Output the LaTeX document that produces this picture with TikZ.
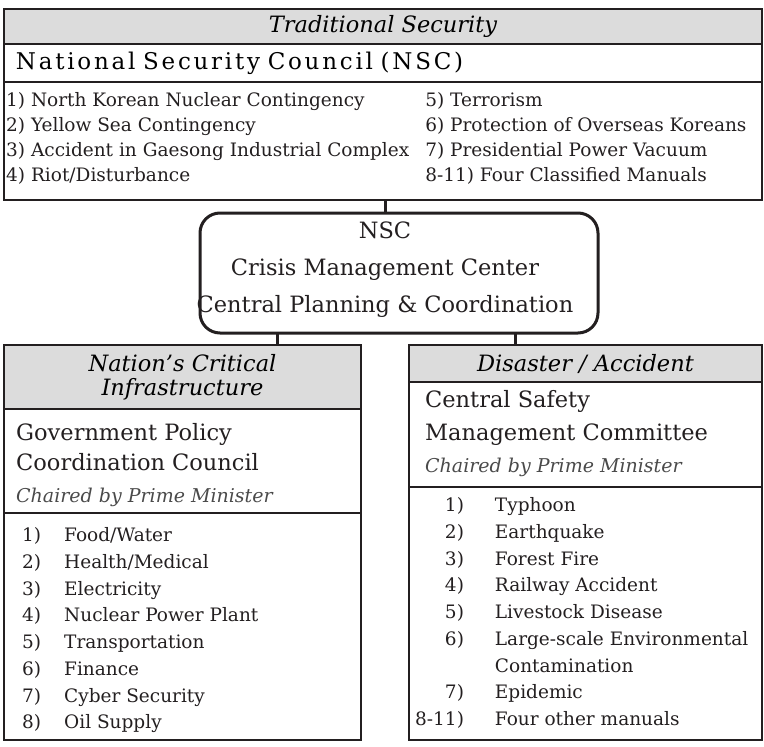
\documentclass[tikz,border=0pt]{standalone}
\usepackage{fontspec}
\setmainfont{DejaVu Serif}
\newfontfamily\trackedfont[LetterSpace=12]{DejaVu Serif}
\usepackage{tikz}
\usetikzlibrary{positioning}
\definecolor{barGray}{HTML}{DCDCDC}
\definecolor{lineDark}{HTML}{231F20}
\definecolor{noteGray}{HTML}{4A4A4A}

\begin{document}
\begin{tikzpicture}[x=1pt,y=-1pt]
\tikzset{HeadBar/.style={
  draw=lineDark,
  fill=barGray,
  line width=2pt,
  rectangle,
  align=center,
  inner sep=0pt,
  outer sep=0pt,
  font=\fontsize{22.5}{24}\selectfont\itshape,
}}
\tikzset{PanelRow/.style={
  draw=lineDark,
  line width=2pt,
  rectangle,
  inner sep=0pt,
  outer sep=0pt,
}}
\tikzset{CenterBox/.style={
  draw=lineDark,
  line width=3pt,
  rounded corners=20pt,
  rectangle,
  outer sep=0pt,
}}
\tikzset{CouncilText/.style={
  anchor=west,
  align=left,
  inner sep=0pt,
  text=lineDark,
}}
\tikzset{ChairText/.style={
  anchor=west,
  inner sep=0pt,
  text=noteGray,
  font=\fontsize{19}{22}\selectfont\itshape,
}}
\tikzset{ListText/.style={
  anchor=north west,
  inner sep=0pt,
  align=left,
  text=lineDark,
  font=\fontsize{18.5}{26.7}\selectfont,
}}
\tikzset{Link/.style={draw=lineDark, line width=3pt}}

\useasboundingbox (0,0) rectangle (764,747);

% traditional security panel
\node[HeadBar, minimum width=758pt, minimum height=35pt, anchor=north west] (tradhead) at (4,9) {Traditional Security};
\node[PanelRow, minimum width=758pt, minimum height=38pt, text width=734pt, align=left,
      font=\fontsize{23}{26}\selectfont, below=0pt of tradhead] (nsc) {\trackedfont National Security Council (NSC)};
\node[PanelRow, minimum width=758pt, minimum height=118pt, below=0pt of nsc] (nsclist) {};
\node[ListText, font=\fontsize{18.5}{25}\selectfont] (nsctopics) at (6,89) {%
  \begin{tabular}{@{}l@{\hspace{16pt}}l@{}}
    1) North Korean Nuclear Contingency & 5) Terrorism\\
    2) Yellow Sea Contingency & 6) Protection of Overseas Koreans\\
    3) Accident in Gaesong Industrial Complex & 7) Presidential Power Vacuum\\
    4) Riot/Disturbance & 8-11) Four Classified Manuals
  \end{tabular}};

% crisis management center
\node[CenterBox, minimum width=398pt, minimum height=120pt] (cmc) at (399,273) {};
\node[align=center, inner sep=0pt, text=lineDark, font=\fontsize{22.5}{37}\selectfont]
  (cmcname) at ([xshift=-14pt,yshift=3pt]cmc.center) {NSC\\Crisis Management Center\\Central Planning \& Coordination};

% critical infrastructure panel
\node[HeadBar, minimum width=357pt, minimum height=64pt, anchor=north west] (infrahead) at (4,345) {Nation's Critical\\Infrastructure};
\node[PanelRow, minimum width=357pt, minimum height=104pt, below=0pt of infrahead] (gpcc) {};
\node[PanelRow, minimum width=357pt, minimum height=227pt, below=0pt of gpcc] (infralist) {};
\node[CouncilText, font=\fontsize{22.5}{30}\selectfont] (gpcctitle) at (16,447) {Government Policy\\Coordination Council};
\node[ChairText] (gpccchair) at (16,497) {Chaired by Prime Minister};
\node[ListText] (infratopics) at (22,523) {%
  \begin{tabular}{@{}r@{\hspace{23pt}}l@{}}
    1) & Food/Water\\
    2) & Health/Medical\\
    3) & Electricity\\
    4) & Nuclear Power Plant\\
    5) & Transportation\\
    6) & Finance\\
    7) & Cyber Security\\
    8) & Oil Supply
  \end{tabular}};

% disaster / accident panel
\node[HeadBar, minimum width=353pt, minimum height=37pt, anchor=north west] (disasterhead) at (409,345) {Disaster / Accident};
\node[PanelRow, minimum width=353pt, minimum height=105pt, below=0pt of disasterhead] (csmc) {};
\node[PanelRow, minimum width=353pt, minimum height=253pt, below=0pt of csmc] (disasterlist) {};
\node[CouncilText, font=\fontsize{22.5}{33}\selectfont] (csmctitle) at (425,418) {Central Safety\\Management Committee};
\node[ChairText] (csmcchair) at (425,467) {Chaired by Prime Minister};
\node[ListText] (disastertopics) at (415,493) {%
  \begin{tabular}{@{}r@{\hspace{31pt}}l@{}}
    1) & Typhoon\\
    2) & Earthquake\\
    3) & Forest Fire\\
    4) & Railway Accident\\
    5) & Livestock Disease\\
    6) & Large-scale Environmental\\
       & Contamination\\
    7) & Epidemic\\
    8-11) & Four other manuals
  \end{tabular}};

% connectors
\draw[Link] (nsclist.south -| cmcname.north) -- (cmcname.north |- cmc.north);
\coordinate (legL) at ([xshift=77pt]cmc.south west);
\coordinate (legR) at ([xshift=-83pt]cmc.south east);
\draw[Link] (legL) -- (legL |- infrahead.north);
\draw[Link] (legR) -- (legR |- disasterhead.north);
\end{tikzpicture}
\end{document}
